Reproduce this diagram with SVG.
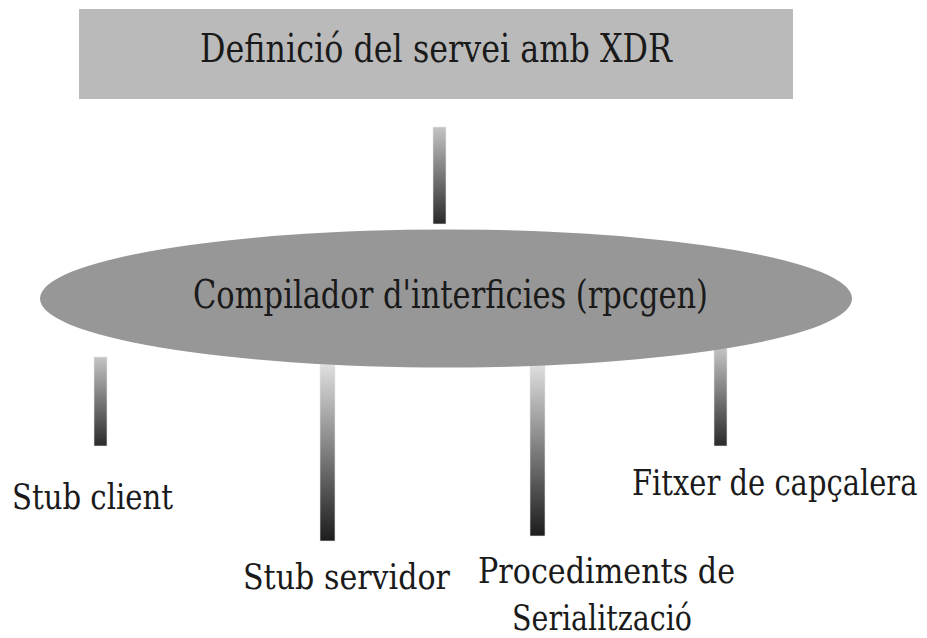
<svg xmlns="http://www.w3.org/2000/svg" width="927" height="638" viewBox="0 0 927 638">
  <defs>
    <linearGradient id="barShort" x1="0" y1="0" x2="0" y2="1">
      <stop offset="0" stop-color="#c4c4c4"/>
      <stop offset="1" stop-color="#2a2a2a"/>
    </linearGradient>
    <linearGradient id="barLong" x1="0" y1="0" x2="0" y2="1">
      <stop offset="0" stop-color="#e2e2e2"/>
      <stop offset="1" stop-color="#1c1c1c"/>
    </linearGradient>
  </defs>
  <style>
    .t { font-family: "DejaVu Serif", "Liberation Serif", serif; fill: #1a1a1a; }
    .big { font-size: 40px; }
    .lbl { font-size: 36px; }
    .bs { fill: url(#barShort); stroke: #e8e8e8; stroke-width: 0.6; }
    .bl { fill: url(#barLong); stroke: #e8e8e8; stroke-width: 0.6; }
  </style>
  <rect width="927" height="638" fill="#ffffff"/>

  <g id="connectors">
    <rect class="bs" x="433" y="127" width="13" height="97"/>
    <rect class="bs" x="94" y="357" width="13" height="89"/>
    <rect class="bl" x="320" y="362" width="15" height="179"/>
    <rect class="bl" x="530" y="362" width="15" height="174"/>
    <rect class="bs" x="714" y="348" width="13" height="98"/>
  </g>

  <g id="node-xdr">
    <rect x="79" y="9" width="714" height="90" fill="#bababa"/>
    <text class="t big" x="200" y="62" textLength="472" lengthAdjust="spacingAndGlyphs">Definició del servei amb XDR</text>
  </g>

  <g id="node-rpcgen">
    <ellipse cx="446" cy="298.5" rx="406" ry="69" fill="#979797"/>
    <text class="t big" x="193" y="308" textLength="515" lengthAdjust="spacingAndGlyphs">Compilador d'interficies (rpcgen)</text>
  </g>

  <g id="node-stub-client">
    <text class="t lbl" x="12" y="509" textLength="161" lengthAdjust="spacingAndGlyphs">Stub client</text>
  </g>

  <g id="node-stub-servidor">
    <text class="t lbl" x="243" y="589" textLength="207" lengthAdjust="spacingAndGlyphs">Stub servidor</text>
  </g>

  <g id="node-serialitzacio">
    <text class="t lbl" x="478" y="583" textLength="257" lengthAdjust="spacingAndGlyphs">Procediments de</text>
    <text class="t lbl" x="512" y="630" textLength="180" lengthAdjust="spacingAndGlyphs">Serialització</text>
  </g>

  <g id="node-capcalera">
    <text class="t lbl" transform="translate(632 495) scale(0.805 1)" x="0" y="0">Fitxer de capçalera</text>
  </g>
</svg>
